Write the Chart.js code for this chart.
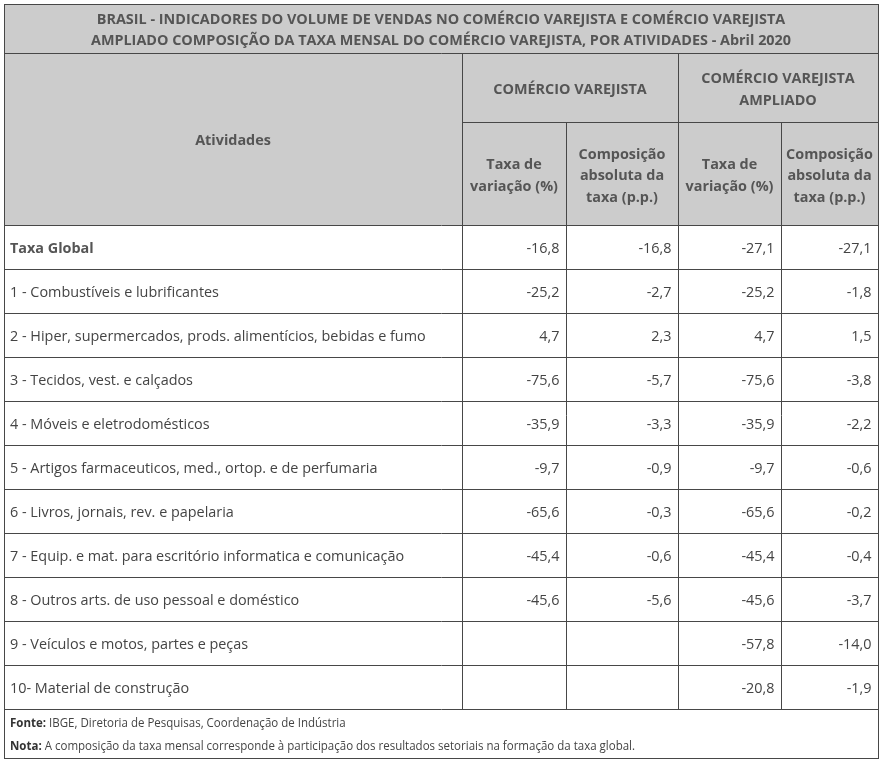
<!DOCTYPE html>
<html>
<head>
<meta charset="utf-8">
<script src="https://cdn.jsdelivr.net/npm/chart.js@4/dist/chart.umd.min.js"></script>
<style>
html,body{margin:0;padding:0;background:#fff;}
canvas{display:block;}
</style>
</head>
<body>
<canvas id="c" width="880" height="767"></canvas>
<script>
const titleLines = [
  'BRASIL - INDICADORES DO VOLUME DE VENDAS NO COMÉRCIO VAREJISTA E COMÉRCIO VAREJISTA',
  'AMPLIADO COMPOSIÇÃO DA TAXA MENSAL DO COMÉRCIO VAREJISTA, POR ATIVIDADES - Abril 2020'
];
const rowHeader = 'Atividades';
const groupHeaders = [['COMÉRCIO VAREJISTA'], ['COMÉRCIO VAREJISTA', 'AMPLIADO']];
const columnHeaders = [
  ['Taxa de', 'variação (%)'],
  ['Composição', 'absoluta da', 'taxa (p.p.)'],
  ['Taxa de', 'variação (%)'],
  ['Composição', 'absoluta da', 'taxa (p.p.)']
];
const activities = [
  'Taxa Global',
  '1 - Combustíveis e lubrificantes',
  '2 - Hiper, supermercados, prods. alimentícios, bebidas e fumo',
  '3 - Tecidos, vest. e calçados',
  '4 - Móveis e eletrodomésticos',
  '5 - Artigos farmaceuticos, med., ortop. e de perfumaria',
  '6 - Livros, jornais, rev. e papelaria',
  '7 - Equip. e mat. para escritório informatica e comunicação',
  '8 - Outros arts. de uso pessoal e doméstico',
  '9 - Veículos e motos, partes e peças',
  '10- Material de construção'
];
const cvTaxa   = [-16.8, -25.2, 4.7, -75.6, -35.9, -9.7, -65.6, -45.4, -45.6, null, null];
const cvComp   = [-16.8, -2.7, 2.3, -5.7, -3.3, -0.9, -0.3, -0.6, -5.6, null, null];
const cvaTaxa  = [-27.1, -25.2, 4.7, -75.6, -35.9, -9.7, -65.6, -45.4, -45.6, -57.8, -20.8];
const cvaComp  = [-27.1, -1.8, 1.5, -3.8, -2.2, -0.6, -0.2, -0.4, -3.7, -14.0, -1.9];
const fonteLabel = 'Fonte:';
const fonteText = ' IBGE, Diretoria de Pesquisas, Coordenação de Indústria';
const notaLabel = 'Nota:';
const notaText = ' A composição da taxa mensal corresponde à participação dos resultados setoriais na formação da taxa global.';

// layout (pixel positions of the table grid)
const L = 4, R = 878, T = 4, B = 758;
const titleBottom = 53, groupBottom = 122, headBottom = 225, bodyBottom = 709;
const colEdges = [462, 566, 678, 781, 878];
const PAD = 6.5;
const DY = 2; // text vertical nudge
const FS = '14.4px ';
const FONT = '"Open Sans", "Noto Sans", sans-serif';
const LINE = '#474747', HEAD_BG = '#cccccc', HEAD_TXT = '#555555', BODY_TXT = '#444444';

const series = [cvTaxa, cvComp, cvaTaxa, cvaComp];
const fmt = v => v.toFixed(1).replace('.', ',');

const datasets = series.map((vals, k) => ({
  label: 'col' + k,
  data: vals.map((v, i) => v == null ? null : {x: colEdges[k + 1] - PAD, y: activities[i], v: v}).filter(d => d),
  pointRadius: 0,
  pointHoverRadius: 0,
  showLine: false
}));

const tablePlugin = {
  id: 'table',
  beforeDraw(chart) {
    const ctx = chart.ctx;
    ctx.save();
    ctx.fillStyle = '#ffffff';
    ctx.fillRect(0, 0, chart.width, chart.height);
    ctx.fillStyle = HEAD_BG;
    ctx.fillRect(L, T, R - L, headBottom - T);
    ctx.restore();
  },
  afterDraw(chart) {
    const ctx = chart.ctx;
    const ys = chart.scales.y;
    ctx.save();
    // grid lines
    ctx.strokeStyle = LINE;
    ctx.lineWidth = 1;
    const hl = (x1, x2, y) => { ctx.beginPath(); ctx.moveTo(x1, y + 0.5); ctx.lineTo(x2, y + 0.5); ctx.stroke(); };
    const vl = (x, y1, y2) => { ctx.beginPath(); ctx.moveTo(x + 0.5, y1); ctx.lineTo(x + 0.5, y2); ctx.stroke(); };
    ctx.strokeRect(L + 0.5, T + 0.5, R - L, B - T);
    hl(L, R + 1, titleBottom);
    hl(colEdges[0], R + 1, groupBottom);
    hl(L, R + 1, headBottom);
    const band = (ys.getPixelForValue(1) - ys.getPixelForValue(0));
    for (let i = 0; i < activities.length; i++) {
      const yb = Math.round(ys.getPixelForValue(i) + band / 2);
      hl(L, R + 1, yb);
    }
    vl(colEdges[0], titleBottom, bodyBottom);
    vl(colEdges[2], titleBottom, bodyBottom);
    vl(colEdges[1], groupBottom, bodyBottom);
    vl(colEdges[3], groupBottom, bodyBottom);

    // title
    ctx.fillStyle = HEAD_TXT;
    ctx.textBaseline = 'middle';
    ctx.textAlign = 'center';
    ctx.font = 'bold ' + FS + FONT;
    const cx = (L + R) / 2;
    ctx.fillText(titleLines[0], cx, 18 + DY);
    ctx.fillText(titleLines[1], cx, 39 + DY);
    // header
    ctx.fillText(rowHeader, (L + colEdges[0]) / 2, 139 + DY);
    const multi = (lines, x, yMid, lh) => {
      const y0 = yMid - (lines.length - 1) * lh / 2;
      lines.forEach((s, j) => ctx.fillText(s, x, y0 + j * lh));
    };
    multi(groupHeaders[0], (colEdges[0] + colEdges[2]) / 2, 88 + DY, 21.5);
    multi(groupHeaders[1], (colEdges[2] + colEdges[4]) / 2, 88 + DY, 21.5);
    for (let k = 0; k < 4; k++) {
      multi(columnHeaders[k], (colEdges[k] + colEdges[k + 1]) / 2, 174 + DY, 21.5);
    }
    // activity labels (from category scale)
    ctx.textAlign = 'left';
    activities.forEach((a, i) => {
      const y = ys.getPixelForValue(i);
      ctx.font = (i === 0 ? 'bold ' : '') + FS + FONT;
      ctx.fillStyle = i === 0 ? HEAD_TXT : BODY_TXT;
      ctx.fillText(a, 10, y + DY);
    });
    // values (from dataset elements)
    ctx.textAlign = 'right';
    ctx.fillStyle = BODY_TXT;
    ctx.font = FS + FONT;
    chart.data.datasets.forEach((ds, k) => {
      const meta = chart.getDatasetMeta(k);
      meta.data.forEach((el, i) => {
        ctx.fillText(fmt(ds.data[i].v), el.x, el.y + DY);
      });
    });
    // footer
    ctx.textAlign = 'left';
    const drawFoot = (lab, txt, y, s) => {
      ctx.font = 'bold 12px ' + FONT;
      const w1 = ctx.measureText(lab).width;
      ctx.save();
      ctx.translate(10, y);
      ctx.scale(s, 1);
      ctx.fillStyle = '#333333';
      ctx.fillText(lab, 0, 0);
      ctx.fillStyle = BODY_TXT;
      ctx.font = '12px ' + FONT;
      ctx.fillText(txt, w1, 0);
      ctx.restore();
    };
    ctx.font = 'bold 12px ' + FONT;
    const nw1 = ctx.measureText(notaLabel).width;
    ctx.font = '12px ' + FONT;
    const nw2 = ctx.measureText(notaText).width;
    const s = 625 / (nw1 + nw2);
    drawFoot(fonteLabel, fonteText, 722 + DY, s);
    drawFoot(notaLabel, notaText, 745 + DY, s);
    ctx.restore();
  }
};

new Chart(document.getElementById('c'), {
  type: 'scatter',
  data: { labels: activities, datasets: datasets },
  options: {
    responsive: false,
    animation: false,
    devicePixelRatio: 1,
    layout: { padding: { left: L, right: 880 - R, top: headBottom, bottom: 767 - bodyBottom } },
    plugins: { legend: { display: false }, tooltip: { enabled: false } },
    scales: {
      x: { type: 'linear', min: L, max: R, display: false },
      y: { type: 'category', labels: activities, offset: true, display: false, grid: { display: false } }
    }
  },
  plugins: [tablePlugin]
});
</script>
</body>
</html>
